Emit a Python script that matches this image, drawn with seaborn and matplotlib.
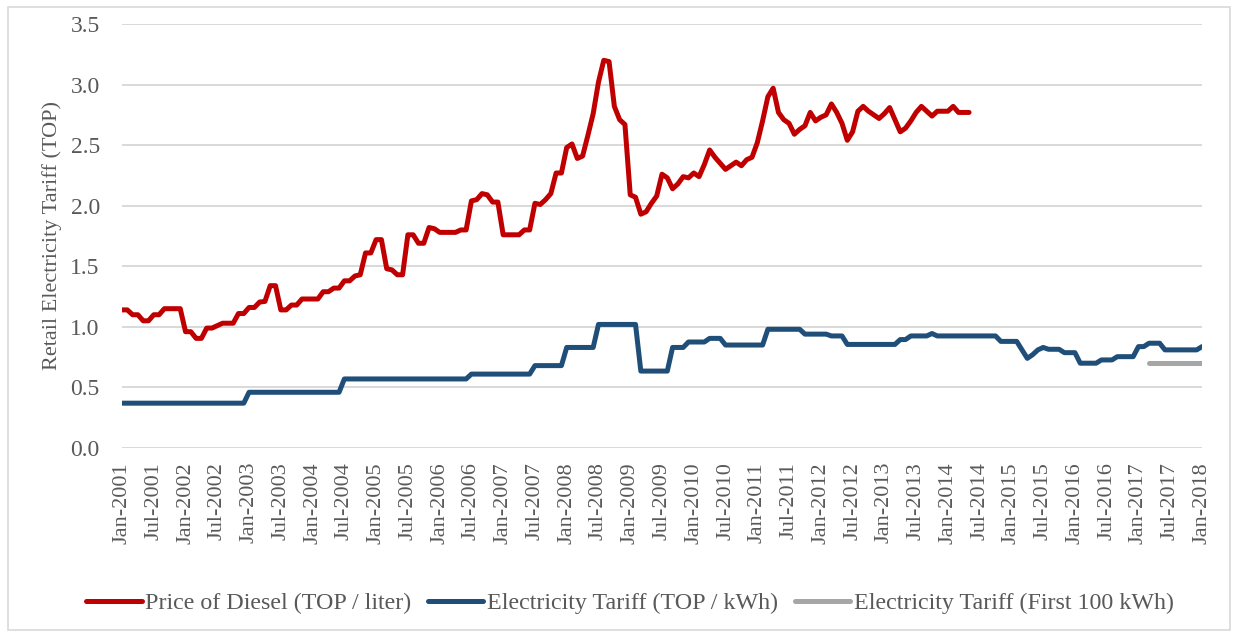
import pandas as pd
import matplotlib
matplotlib.use("Agg")
import matplotlib.pyplot as plt
from matplotlib.patches import Rectangle
import seaborn as sns

# Monthly values, Jan-2001 onwards (one row per year)
diesel = [
    1.14, 1.14, 1.10, 1.10, 1.05, 1.05, 1.10, 1.10, 1.15, 1.15, 1.15, 1.15,
    0.96, 0.96, 0.905, 0.905, 0.99, 0.99, 1.01, 1.03, 1.03, 1.03, 1.11, 1.11,
    1.16, 1.16, 1.205, 1.21, 1.34, 1.34, 1.14, 1.14, 1.18, 1.18, 1.23, 1.23,
    1.23, 1.23, 1.29, 1.29, 1.32, 1.32, 1.38, 1.38, 1.42, 1.43, 1.61, 1.61,
    1.72, 1.72, 1.48, 1.47, 1.43, 1.43, 1.76, 1.76, 1.69, 1.69, 1.82, 1.81,
    1.78, 1.78, 1.78, 1.78, 1.80, 1.80, 2.04, 2.05, 2.10, 2.09, 2.03, 2.03,
    1.76, 1.76, 1.76, 1.76, 1.80, 1.80, 2.02, 2.01, 2.05, 2.10, 2.27, 2.27,
    2.48, 2.51, 2.39, 2.41, 2.58, 2.76, 3.02, 3.20, 3.19, 2.82, 2.71, 2.67,
    2.09, 2.07, 1.93, 1.95, 2.02, 2.08, 2.26, 2.23, 2.14, 2.18, 2.24, 2.23,
    2.27, 2.24, 2.34, 2.46, 2.40, 2.35, 2.30, 2.33, 2.36, 2.33, 2.38, 2.40,
    2.52, 2.70, 2.90, 2.97, 2.77, 2.71, 2.68, 2.59, 2.63, 2.66, 2.77, 2.70,
    2.73, 2.75, 2.84, 2.77, 2.68, 2.54, 2.61, 2.78, 2.82, 2.78, 2.75, 2.72,
    2.76, 2.81, 2.71, 2.61, 2.64, 2.70, 2.77, 2.82, 2.78, 2.74, 2.78, 2.78,
    2.78, 2.82, 2.77, 2.77, 2.77,
]

electricity = [
    0.37, 0.37, 0.37, 0.37, 0.37, 0.37, 0.37, 0.37, 0.37, 0.37, 0.37, 0.37,
    0.37, 0.37, 0.37, 0.37, 0.37, 0.37, 0.37, 0.37, 0.37, 0.37, 0.37, 0.37,
    0.46, 0.46, 0.46, 0.46, 0.46, 0.46, 0.46, 0.46, 0.46, 0.46, 0.46, 0.46,
    0.46, 0.46, 0.46, 0.46, 0.46, 0.46, 0.57, 0.57, 0.57, 0.57, 0.57, 0.57,
    0.57, 0.57, 0.57, 0.57, 0.57, 0.57, 0.57, 0.57, 0.57, 0.57, 0.57, 0.57,
    0.57, 0.57, 0.57, 0.57, 0.57, 0.57, 0.61, 0.61, 0.61, 0.61, 0.61, 0.61,
    0.61, 0.61, 0.61, 0.61, 0.61, 0.61, 0.68, 0.68, 0.68, 0.68, 0.68, 0.68,
    0.83, 0.83, 0.83, 0.83, 0.83, 0.83, 1.02, 1.02, 1.02, 1.02, 1.02, 1.02,
    1.02, 1.02, 0.635, 0.635, 0.635, 0.635, 0.635, 0.635, 0.83, 0.83, 0.83, 0.875,
    0.875, 0.875, 0.875, 0.905, 0.905, 0.905, 0.85, 0.85, 0.85, 0.85, 0.85, 0.85,
    0.85, 0.85, 0.98, 0.98, 0.98, 0.98, 0.98, 0.98, 0.98, 0.94, 0.94, 0.94,
    0.94, 0.94, 0.925, 0.925, 0.925, 0.855, 0.855, 0.855, 0.855, 0.855, 0.855, 0.855,
    0.855, 0.855, 0.855, 0.895, 0.895, 0.925, 0.925, 0.925, 0.925, 0.945, 0.925, 0.925,
    0.925, 0.925, 0.925, 0.925, 0.925, 0.925, 0.925, 0.925, 0.925, 0.925, 0.88, 0.88,
    0.88, 0.88, 0.81, 0.74, 0.77, 0.81, 0.83, 0.815, 0.815, 0.815, 0.787, 0.787,
    0.787, 0.70, 0.70, 0.70, 0.70, 0.727, 0.727, 0.727, 0.754, 0.754, 0.754, 0.754,
    0.837, 0.837, 0.865, 0.865, 0.865, 0.81, 0.81, 0.81, 0.81, 0.81, 0.81, 0.81,
    0.837,
]

# First 100 kWh tariff, Mar-2017 to Jan-2018
first100 = [0.70, 0.70, 0.70, 0.70, 0.70, 0.70, 0.70, 0.70, 0.70, 0.70, 0.70]
first100_start = 194

months = pd.date_range("2001-01-01", "2018-01-01", freq="MS")
tick_pos = list(range(0, len(months), 6))
tick_labels = [months[i].strftime("%b-%Y") for i in tick_pos]

series_names = [
    "Price of Diesel (TOP / liter)",
    "Electricity Tariff (TOP / kWh)",
    "Electricity Tariff (First 100 kWh)",
]
colors = ["#C00000", "#1F4E79", "#A6A6A6"]

df_d = pd.DataFrame({"m": range(len(diesel)), "v": diesel})
df_e = pd.DataFrame({"m": range(len(electricity)), "v": electricity})
df_f = pd.DataFrame({"m": range(first100_start, first100_start + len(first100)), "v": first100})

sns.set_style("white")
plt.rcParams["font.family"] = ["Liberation Serif", "DejaVu Serif"]
text_color = "#595959"

W, H = 1238, 637
fig = plt.figure(figsize=(W / 100, H / 100), dpi=100)
ax = fig.add_axes([122 / W, 1 - 448 / H, 1080 / W, 424 / H])

for d, name, c in zip([df_d, df_e, df_f], series_names, colors):
    sns.lineplot(data=d, x="m", y="v", ax=ax, color=c, linewidth=3.6, label=name,
                 solid_capstyle="round", solid_joinstyle="round")

ax.set_xlim(0, 204)
ax.set_ylim(0, 3.5)
ax.set_yticks([0, 0.5, 1.0, 1.5, 2.0, 2.5, 3.0, 3.5])
ax.set_yticklabels([f"{t:.1f}" for t in ax.get_yticks()])
ax.set_xticks(tick_pos)
ax.set_xticklabels(tick_labels, rotation=90)
ax.tick_params(axis="y", length=0, pad=16, labelsize=17, labelcolor=text_color)
ax.tick_params(axis="x", length=0, pad=10, labelsize=16, labelcolor=text_color)

ax.yaxis.grid(True, color="#D9D9D9", linewidth=1.4)
ax.xaxis.grid(False)
ax.set_axisbelow(True)
for s in ax.spines.values():
    s.set_visible(False)

ax.set_xlabel("")
ax.set_ylabel("Retail Electricity Tariff (TOP)", fontsize=16, color=text_color)
ax.yaxis.set_label_coords(-0.056, 0.5)

ax.legend(loc="center", bbox_to_anchor=(630 / W, 1 - 603 / H), bbox_transform=fig.transFigure,
          ncol=3, frameon=False, fontsize=17.3, labelcolor=text_color,
          handlelength=2.3, handletextpad=0.15, columnspacing=0.7)

fig.patches.append(Rectangle((8 / W, 7 / H), 1222 / W, 623 / H, transform=fig.transFigure,
                             fill=False, edgecolor="#D9D9D9", linewidth=1.2))

fig.savefig("out.png", dpi=100)
